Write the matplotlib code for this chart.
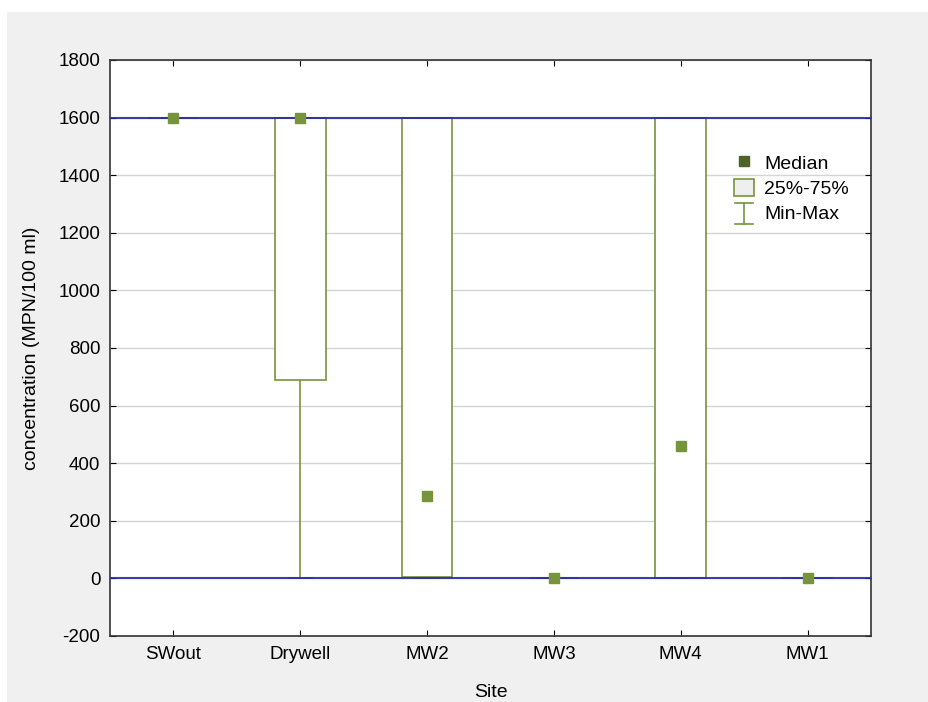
import matplotlib
matplotlib.use("Agg")
import matplotlib.pyplot as plt
import numpy as np
from matplotlib.patches import Rectangle, Patch
from matplotlib.lines import Line2D
from matplotlib.legend_handler import HandlerBase

plt.rcParams['font.family'] = ['Liberation Sans', 'DejaVu Sans']
plt.rcParams['axes.unicode_minus'] = False

sites = ['SWout', 'Drywell', 'MW2', 'MW3', 'MW4', 'MW1']
medians = [1600, 1600, 285, 1, 460, 1]
q25 = [1600, 690, 4, 0, 2, 0]
q75 = [1600, 1600, 1600, 2, 1600, 2]
mins = [1600, 0, 0, 0, 0, 0]
maxs = [1600, 1600, 1600, 2, 1600, 2]
ref_lines = [0, 1600]
yticks = list(range(-200, 1801, 200))

green = '#77933c'
dark_green = '#4f6228'
blue = '#2a2aa0'


class IBeamHandle:
    pass


class HandlerIBeam(HandlerBase):
    def create_artists(self, legend, orig_handle, xdescent, ydescent, width,
                       height, fontsize, trans):
        cx = width / 2 - xdescent
        y0 = -ydescent - 0.15 * height
        y1 = -ydescent + 1.05 * height
        hw = width * 0.45
        l1 = Line2D([cx, cx], [y0, y1], color=green, lw=1.2, transform=trans)
        l2 = Line2D([cx - hw, cx + hw], [y0, y0], color=green, lw=1.2, transform=trans)
        l3 = Line2D([cx - hw, cx + hw], [y1, y1], color=green, lw=1.2, transform=trans)
        return [l1, l2, l3]


fig = plt.figure(figsize=(9.29, 7.02), dpi=100)
fig.patch.set_facecolor('white')
fig.add_artist(Rectangle((7/929, 0), 1 - 7/929, 1 - 12/702, transform=fig.transFigure,
                         facecolor='#f0f0f0', edgecolor='none', zorder=0))
ax = fig.add_axes([110/929, 1 - 636/702, 761/929, 576/702])
ax.set_facecolor('white')

x = np.arange(len(sites))
w = 0.4
ax.set_xlim(-0.5, len(sites) - 0.5)
ax.set_ylim(-200, 1800)
ax.set_yticks(yticks)
ax.set_xticks(x)
ax.set_xticklabels(sites)
ax.yaxis.grid(True, color='#d4d4d4', linewidth=1.0, zorder=0)
ax.set_axisbelow(True)

# whiskers
ax.vlines(x, mins, q25, colors=green, linewidth=1.2, zorder=2)
ax.vlines(x, q75, maxs, colors=green, linewidth=1.2, zorder=2)
ax.hlines(mins, x - w / 4, x + w / 4, colors=green, linewidth=1.2, zorder=2)
ax.hlines(maxs, x - w / 4, x + w / 4, colors=green, linewidth=1.2, zorder=2)

# boxes
heights = [t - b for t, b in zip(q75, q25)]
ax.bar(x, heights, bottom=q25, width=w, facecolor='white', edgecolor=green,
       linewidth=1.2, zorder=3)

# reference lines
for r in ref_lines:
    ax.axhline(r, color=blue, linewidth=1.5, alpha=0.9, zorder=4)

# medians
ax.plot(x, medians, linestyle='none', marker='s', markersize=7,
        markerfacecolor=green, markeredgecolor=green, zorder=5)

ax.tick_params(direction='in', length=4, top=True, right=True, labelsize=13.5,
               colors='black', pad=7)
for s in ax.spines.values():
    s.set_color('#333333')
    s.set_linewidth(1.2)

ax.set_xlabel('Site', fontsize=14, labelpad=15)
ax.set_ylabel('concentration (MPN/100 ml)', fontsize=14, labelpad=13)

# legend
h_med = Line2D([], [], linestyle='none', marker='s', markersize=7,
               markerfacecolor=dark_green, markeredgecolor=dark_green)
h_box = Patch(facecolor='#efefef', edgecolor=green, linewidth=1.2)
h_mm = IBeamHandle()
leg = ax.legend([h_med, h_box, h_mm], ['Median', '25%-75%', 'Min-Max'],
                handler_map={IBeamHandle: HandlerIBeam()},
                loc='upper left', bbox_to_anchor=(0.80, 0.865), frameon=False,
                fontsize=14, handlelength=1.0, handleheight=1.0,
                labelspacing=0.3, handletextpad=0.55, borderpad=0.3)

fig.savefig('out.png', dpi=100, facecolor=fig.get_facecolor())
